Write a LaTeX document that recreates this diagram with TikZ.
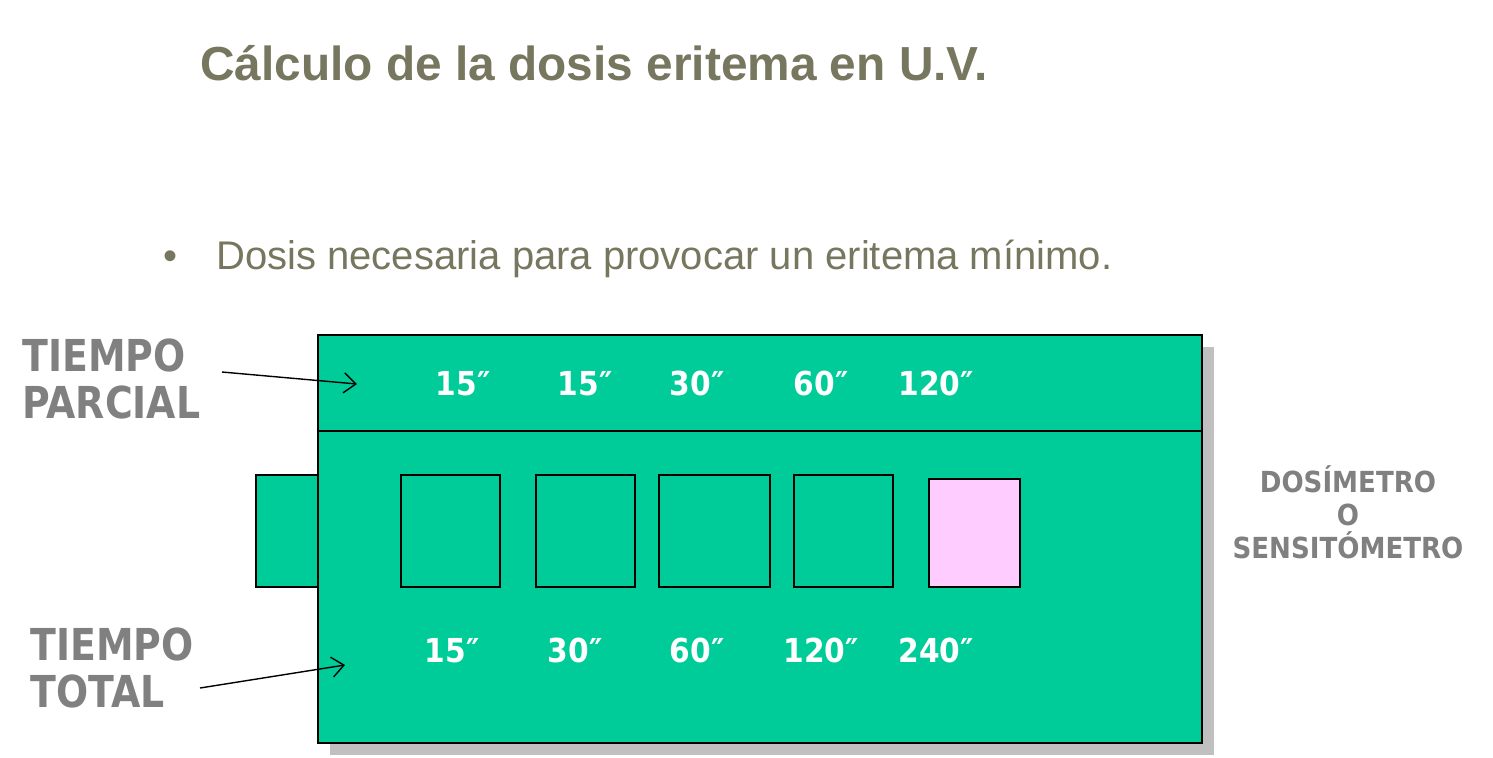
\documentclass[tikz,border=0pt]{standalone}
\usepackage{fontspec}
\setmainfont{Liberation Sans}
\newfontfamily\lblfont[FakeStretch=0.9]{DejaVu Sans}
\newfontfamily\sidefont[FakeStretch=0.86]{DejaVu Sans}
\usetikzlibrary{arrows.meta}
\definecolor{stripgreen}{HTML}{00CC99}
\definecolor{dosepink}{HTML}{FFCCFF}
\definecolor{shadowgrey}{HTML}{C0C0C0}
\definecolor{labelgrey}{HTML}{808080}
\definecolor{titleolive}{HTML}{777760}
\tikzset{
  panel/.style={draw=black, fill=stripgreen, line width=0.8pt, inner sep=0pt},
  window/.style={draw=black, fill=stripgreen, line width=0.8pt, inner sep=0pt, minimum height=56pt},
  secs/.style={anchor=base, text=white, inner sep=0pt, font=\lblfont\bfseries\fontsize{16.5}{19}\selectfont},
  sidelabel/.style={anchor=base west, align=left, text=labelgrey, inner sep=0pt, font=\sidefont\bfseries\fontsize{22}{23.2}\selectfont},
  pointer/.style={draw=black, line width=0.7pt, -{Straight Barb[length=6pt,width=10pt]}}
}
\begin{document}
\begin{tikzpicture}[x=0.5pt,y=-0.5pt]
\useasboundingbox[fill=white] (0,0) rectangle (1493,757);
% title and bullet
\node[anchor=base west, inner sep=0pt, text=titleolive, font=\bfseries\fontsize{23.9}{28}\selectfont] (title) at (200,80) {Cálculo de la dosis eritema en U.V.};
\node[anchor=base, inner sep=0pt, text=titleolive, font=\fontsize{20}{24}\selectfont] (bullet) at (170,269) {•};
\node[anchor=base west, inner sep=0pt, text=titleolive, font=\fontsize{20}{24}\selectfont] (intro) at (216,269) {Dosis necesaria para provocar un eritema mínimo.};
% dosimeter body
\node[fill=shadowgrey, inner sep=0pt, minimum width=442pt, minimum height=204pt] (shadow) at (772,551) {};
\node[panel, minimum width=442pt, minimum height=204pt] (main) at (760,539) {};
\draw[line width=0.8pt] (main.west |- 0,431) coordinate (divl) -- (main.east |- 0,431) coordinate (divr);
\node[panel, minimum width=31pt, minimum height=56pt] (tab) at (287,531) {};
% windows
\node[window, minimum width=49.5pt] (w1) at (450.5,531) {};
\node[window, minimum width=49.5pt] (w2) at (585.5,531) {};
\node[window, minimum width=55.5pt] (w3) at (714.5,531) {};
\node[window, minimum width=49.5pt] (w4) at (843.5,531) {};
\node[window, fill=dosepink, minimum width=45.5pt, minimum height=54pt] (w5) at (974.5,533) {};
% partial times
\node[secs] (p1) at (463,395) {15″};
\node[secs] (p2) at (585,395) {15″};
\node[secs] (p3) at (697,395) {30″};
\node[secs] (p4) at (821,395) {60″};
\node[secs] (p5) at (936,395) {120″};
% total times
\node[secs] (t1) at (452,662) {15″};
\node[secs] (t2) at (575,662) {30″};
\node[secs] (t3) at (697,662) {60″};
\node[secs] (t4) at (821,662) {120″};
\node[secs] (t5) at (936,662) {240″};
% side labels
\node[sidelabel] (parcial) at (22,418) {TIEMPO\\PARCIAL};
\node[sidelabel] (total) at (30,707) {TIEMPO\\TOTAL};
\node[anchor=base, align=center, text=labelgrey, inner sep=0pt, font=\lblfont\bfseries\fontsize{14.5}{16.5}\selectfont] (dosim) at (1348,558) {DOSÍMETRO\\O\\SENSITÓMETRO};
% pointers
\coordinate (pa) at (222,372);
\coordinate (pb) at (357,384);
\coordinate (ta) at (200,688);
\coordinate (tb) at (345,665);
\draw[pointer] (pa) -- (pb);
\draw[pointer] (ta) -- (tb);
\end{tikzpicture}
\end{document}
